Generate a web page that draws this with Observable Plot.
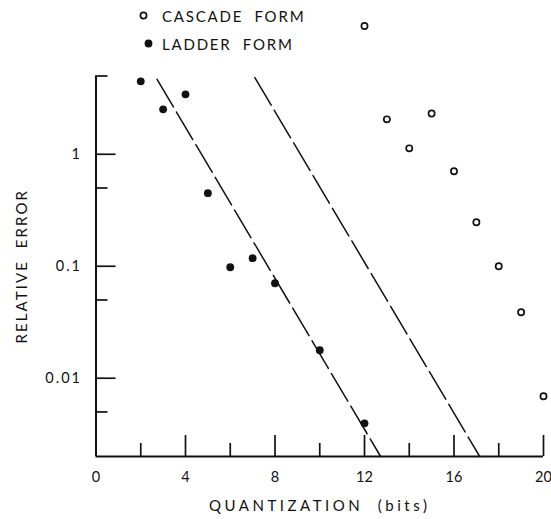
<!DOCTYPE html>
<html>
<head>
<meta charset="utf-8">
<script src="https://cdn.jsdelivr.net/npm/d3@7"></script>
<script src="https://cdn.jsdelivr.net/npm/@observablehq/plot@0.6"></script>
<style>
  html, body { margin: 0; padding: 0; background: #fff; }
  #wrap { position: relative; width: 551px; height: 519px; font-family: Lato, "Liberation Sans", sans-serif; color: #111; }
  #wrap svg.plot { position: absolute; left: 0; top: 0; }
  .leg { position: absolute; font-size: 15px; letter-spacing: 1.8px; white-space: pre; line-height: 18px; }
  .legsym { position: absolute; }
</style>
</head>
<body>
<div id="wrap"></div>
<script>
// Data
const ladderBits = [2, 3, 4, 5, 6, 7, 8, 10, 12];
const ladderError = [4.48, 2.52, 3.43, 0.449, 0.098, 0.118, 0.0705, 0.0178, 0.00396];
const cascadeBits = [12, 13, 14, 15, 16, 17, 18, 19, 20];
const cascadeError = [14.0, 2.05, 1.13, 2.31, 0.705, 0.247, 0.10, 0.0388, 0.0069];
// Dashed reference lines (end points)
const ladderFitBits = [2.73, 12.72];
const ladderFitError = [4.67, 0.002];
const cascadeFitBits = [7.10, 17.15];
const cascadeFitError = [4.84, 0.002];
// Ticks
const yMajorTicks = [1, 0.1, 0.01];
const yMinorTicks = [5, 0.5, 0.05, 0.005];
const xMajorTicks = [4, 8, 12, 16, 20];
const xMinorTicks = [2, 6, 10, 14, 18];
const xTickLabels = [0, 4, 8, 12, 16, 20];
const seriesNames = ["CASCADE  FORM", "LADDER  FORM"];
const xTitle = "QUANTIZATION  (bits)";
const yTitle = "RELATIVE  ERROR";

const ladder = ladderBits.map((b, i) => ({bits: b, error: ladderError[i]}));
const cascade = cascadeBits.map((b, i) => ({bits: b, error: cascadeError[i]}));
const fit1 = ladderFitBits.map((b, i) => ({bits: b, error: ladderFitError[i]}));
const fit2 = cascadeFitBits.map((b, i) => ({bits: b, error: cascadeFitError[i]}));

const ink = "#111";
const W = 551, H = 519, mL = 95.5, mR = 8, mT = 75.5, mB = 63;
const frameW = W - mL - mR, frameH = H - mT - mB;

const chart = Plot.plot({
  width: W,
  height: H,
  marginLeft: mL,
  marginRight: mR,
  marginTop: mT,
  marginBottom: mB,
  style: {fontFamily: "Lato, 'Liberation Sans', sans-serif", fontSize: "14px", color: ink, background: "#fff", overflow: "visible"},
  x: {domain: [0, 20]},
  y: {type: "log", domain: [0.002, 5]},
  marks: [
    // axis lines
    Plot.ruleX([0], {stroke: ink, strokeWidth: 2}),
    Plot.ruleY([0.002], {stroke: ink, strokeWidth: 2}),
    // tick labels
    Plot.axisY({ticks: yMajorTicks, tickSize: 0, tickPadding: 14, tickFormat: d => String(d), label: null, fontSize: 14.5}),
    Plot.axisX({ticks: xTickLabels, tickSize: 0, tickPadding: 15, tickFormat: d => String(d), label: null, fontSize: 14.5}),
    // inward ticks (rules inset from the far side of the frame)
    Plot.ruleY(yMajorTicks, {y: d => d, insetRight: frameW - 20, stroke: ink, strokeWidth: 1.7}),
    Plot.ruleY(yMinorTicks, {y: d => d, insetRight: frameW - 12, stroke: ink, strokeWidth: 1.7}),
    Plot.ruleX(xMajorTicks, {x: d => d, insetTop: frameH - 21, stroke: ink, strokeWidth: 1.7}),
    Plot.ruleX(xMinorTicks, {x: d => d, insetTop: frameH - 13, stroke: ink, strokeWidth: 1.7}),
    // titles
    Plot.text([yTitle], {frameAnchor: "left", dx: -74, rotate: -90, textAnchor: "middle", text: d => d, fontSize: 15, fill: ink, className: "ytitle"}),
    Plot.text([xTitle], {frameAnchor: "bottom", dy: 54, textAnchor: "middle", text: d => d, fontSize: 15, fill: ink, className: "xtitle"}),
    // dashed lines
    Plot.line(fit1, {x: "bits", y: "error", stroke: ink, strokeWidth: 1.5, strokeDasharray: "32,6"}),
    Plot.line(fit2, {x: "bits", y: "error", stroke: ink, strokeWidth: 1.5, strokeDasharray: "32,6"}),
    // points
    Plot.dot(ladder, {x: "bits", y: "error", r: 3.9, fill: ink, stroke: "none"}),
    Plot.dot(cascade, {x: "bits", y: "error", r: 3.1, fill: "none", stroke: ink, strokeWidth: 1.7})
  ]
});
chart.classList.add("plot");
const wrap = document.getElementById("wrap");
wrap.appendChild(chart);
// letter spacing
chart.querySelectorAll(".ytitle text, g.ytitle text").forEach(t => t.setAttribute("letter-spacing", "2.1"));
chart.querySelectorAll(".xtitle text, g.xtitle text").forEach(t => t.setAttribute("letter-spacing", "3.5"));
chart.querySelectorAll("g[aria-label='y-axis tick label'] text").forEach(t => t.setAttribute("letter-spacing", "2"));

// legend (HTML overlay)
const legSvg = `<svg class="legsym" width="551" height="60" style="left:0;top:0;position:absolute">
  <circle cx="143.5" cy="15.5" r="3.1" fill="none" stroke="${ink}" stroke-width="1.7"/>
  <circle cx="148.5" cy="43.5" r="3.9" fill="${ink}"/>
</svg>`;
wrap.insertAdjacentHTML("beforeend", legSvg);
[[seriesNames[0], 6.5], [seriesNames[1], 34.5]].forEach(([t, top]) => {
  const d = document.createElement("div");
  d.className = "leg";
  d.style.left = "162px";
  d.style.top = top + "px";
  d.textContent = t;
  wrap.appendChild(d);
});
</script>
</body>
</html>
